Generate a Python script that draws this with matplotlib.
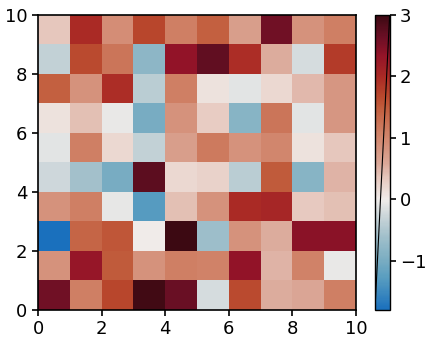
import numpy as np
import matplotlib.pyplot as plt
from matplotlib.colors import LinearSegmentedColormap, Normalize

# grid values, row 0 is the bottom row
row0 = [2.60, 1.10, 1.70, 2.95, 2.65, -0.20, 1.65, 0.55, 0.60, 1.10]
row1 = [0.85, 2.30, 1.50, 0.85, 1.10, 1.05, 2.35, 0.50, 1.05, -0.05]
row2 = [-1.79, 1.40, 1.55, 0.00, 3.01, -0.65, 0.85, 0.55, 2.40, 2.40]
row3 = [0.85, 1.10, -0.07, -1.30, 0.40, 0.85, 2.00, 2.05, 0.32, 0.40]
row4 = [-0.25, -0.60, -1.00, 2.75, 0.20, 0.25, -0.40, 1.50, -0.85, 0.50]
row5 = [-0.10, 1.10, 0.20, -0.35, 0.70, 1.15, 0.85, 1.00, 0.10, 0.35]
row6 = [0.10, 0.40, -0.05, -1.00, 0.85, 0.30, -0.85, 1.20, -0.10, 0.80]
row7 = [1.45, 0.85, 1.95, -0.40, 1.10, 0.10, -0.10, 0.20, 0.45, 0.80]
row8 = [-0.35, 1.65, 1.20, -0.80, 2.35, 2.70, 1.95, 0.55, -0.20, 1.80]
row9 = [0.35, 2.00, 0.90, 1.70, 1.10, 1.45, 0.70, 2.60, 0.85, 1.10]

values = np.array([row0, row1, row2, row3, row4, row5, row6, row7, row8, row9])
vmin, vmax = values.min(), values.max()

# diverging palette: blue -> near white at zero -> red -> very dark red
anchors = [
    (-1.8, "#1a70bd"), (-1.3, "#579cc0"), (-1.0, "#79adc2"), (-0.6, "#a2c0cb"),
    (-0.3, "#c8d4d8"), (0.0, "#f0ecea"), (0.3, "#e8cdc4"), (0.6, "#daa696"),
    (0.9, "#d48e77"), (1.1, "#cf7f64"), (1.5, "#c15c3c"), (1.7, "#b8462c"),
    (2.0, "#aa2a25"), (2.35, "#931328"), (2.65, "#6a0f25"), (3.0, "#3c0912"),
]
pos = [(v - anchors[0][0]) / (anchors[-1][0] - anchors[0][0]) for v, _ in anchors]
cmap = LinearSegmentedColormap.from_list("bal", list(zip(pos, [c for _, c in anchors])))

fig = plt.figure(figsize=(4.32, 3.44), dpi=100)
ax = fig.add_axes([0.088, 0.099, 0.736, 0.858])
cax = fig.add_axes([0.868, 0.099, 0.034, 0.858])

mesh = ax.pcolormesh(np.arange(11), np.arange(11), values, cmap=cmap,
                     norm=Normalize(vmin=anchors[0][0], vmax=anchors[-1][0]))
ax.set_xticks([0, 2, 4, 6, 8, 10])
ax.set_yticks([0, 2, 4, 6, 8, 10])
ax.tick_params(labelsize=13, width=1.2, length=4)
for s in ax.spines.values():
    s.set_linewidth(1.2)

cb = fig.colorbar(mesh, cax=cax)
cb.set_ticks([-1, 0, 1, 2, 3])
cb.ax.tick_params(labelsize=13, width=1.2, length=4)
cb.outline.set_linewidth(1.0)
cax.plot([0, 1], [0, 1], transform=cax.transAxes, color="black", lw=0.8)

fig.savefig("out.png", dpi=100)
